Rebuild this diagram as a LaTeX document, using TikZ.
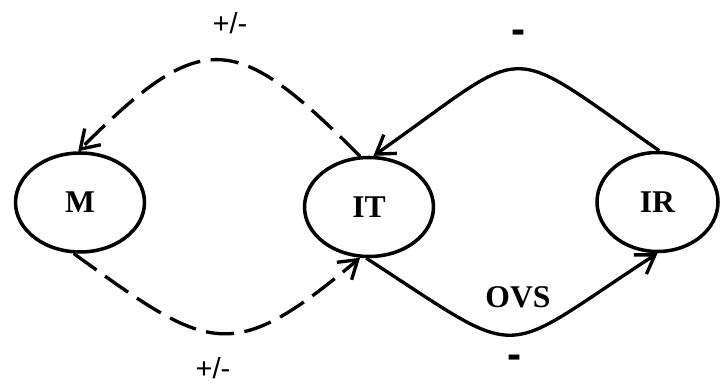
\documentclass[tikz,border=0pt]{standalone}
\usepackage{fontspec}
\setmainfont{Liberation Serif}
\newfontfamily\signfont{Liberation Sans}
\usetikzlibrary{shapes.geometric,arrows.meta}
\begin{document}
\begin{tikzpicture}[>={Straight Barb[length=10pt,width=13pt]},
  kern/.style={draw,ellipse,line width=2pt,minimum width=2.58cm,minimum height=1.98cm,inner sep=0pt,font=\fontsize{18}{20}\selectfont\bfseries},
  link/.style={->,line width=1.9pt},
  maybe/.style={link,dash pattern=on 16pt off 6pt},
  sign/.style={inner sep=1pt,font=\signfont\fontsize{16.5}{18}\selectfont},
  minus/.style={font=\signfont\fontsize{24}{26}\selectfont\bfseries}]
\useasboundingbox (0,0) rectangle (14.4,7.66);
\node[kern] (m) at (1.6,3.61) {M};
\node[kern] (it) at (7.38,3.52) {IT};
\node[kern,minimum width=2.42cm] (ir) at (13.15,3.62) {IR};
\node[sign] (plustop) at (4.6,7.19) {+/-};
\node[sign] (plusbot) at (4.26,0.3) {+/-};
\node[minus] (mintop) at (10.38,6.92) {-};
\node[minus] (minbot) at (10.3,0.42) {-};
\node[font=\fontsize{18}{20}\selectfont\bfseries] (ovs) at (10.36,1.72) {OVS};
\draw[maybe] (it.100) to[out=135,in=45,looseness=1.6] (m.92);
\draw[link] (ir.88) to[out=145,in=35,looseness=1.75] (it.85);
\draw[maybe] (m.-97) to[out=-36,in=-140,looseness=1.5] (it.-100);
\draw[link] (it.-93) to[out=-33,in=-147,looseness=1.7] (ir.-90);
\end{tikzpicture}
\end{document}
